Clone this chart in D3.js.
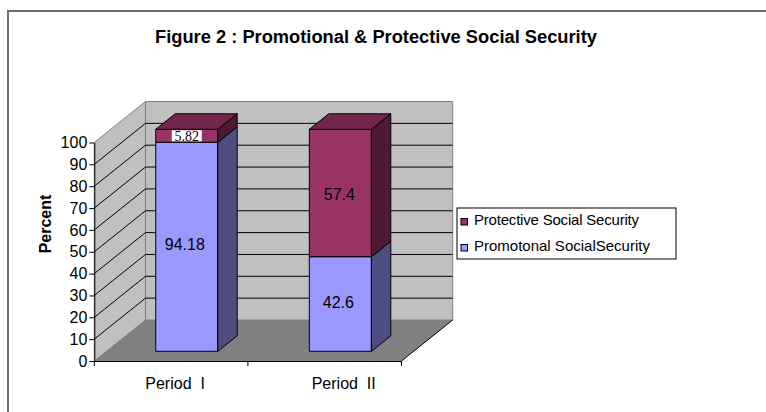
<!DOCTYPE html>
<html>
<head>
<meta charset="utf-8">
<script src="https://cdn.jsdelivr.net/npm/d3@7"></script>
<style>
  html, body { margin: 0; padding: 0; background: #fff; }
  svg { display: block; font-family: Arial, "Liberation Sans", sans-serif; }
</style>
</head>
<body>
<svg id="chart" width="766" height="412"></svg>
<script>
// ---- data ----
const categories = ["Period  I", "Period  II"];
const seriesNames = ["Promotonal SocialSecurity", "Protective Social Security"];
const promotional = [94.18, 42.6];
const protective = [5.82, 57.4];
const yTicks = [0, 10, 20, 30, 40, 50, 60, 70, 80, 90, 100];
const titleText = "Figure 2 : Promotional & Protective Social Security";
const yTitle = "Percent";

// ---- styling ----
const colors = {
  promo: "#9999ff", promoSide: "#4d4d80", promoTop: "#7373bf",
  prot: "#993366", protSide: "#4d1a33", protTop: "#73264d",
  wall: "#c0c0c0", floor: "#808080"
};

const svg = d3.select("#chart");

// outer border
svg.append("rect").attr("x", 8).attr("y", 11).attr("width", 820).attr("height", 460)
  .attr("fill", "none").attr("stroke", "#6e6e6e").attr("stroke-width", 2);

// scales
const x = d3.scaleBand().domain(categories).range([94.3, 401.5]);
const y = d3.scaleLinear().domain([0, 100]).range([361, 142.5]);
const yBar = d3.scaleLinear().domain([0, 100]).range([351.3, 129.3]);
const DX = 51.2, DY = -41;      // wall depth
const BDX = 19.4, BDY = -15.5;  // bar depth

const x0 = x.range()[0], x1 = x.range()[1];
const line = d3.line();

// back wall
svg.append("path")
  .attr("d", line([[x0 + DX, y(0) + DY], [x1 + DX, y(0) + DY], [x1 + DX, y(100) + DY], [x0 + DX, y(100) + DY]]) + "Z")
  .attr("fill", colors.wall).attr("stroke", "#808080").attr("stroke-width", 1);
// left wall
svg.append("path")
  .attr("d", line([[x0, y(0)], [x0 + DX, y(0) + DY], [x0 + DX, y(100) + DY], [x0, y(100)]]) + "Z")
  .attr("fill", colors.wall).attr("stroke", "#808080").attr("stroke-width", 1);
// floor
svg.append("path")
  .attr("d", line([[x0, y(0)], [x1, y(0)], [x1 + DX, y(0) + DY], [x0 + DX, y(0) + DY]]) + "Z")
  .attr("fill", colors.floor).attr("stroke", "none");
svg.append("path")
  .attr("d", line([[x1, y(0)], [x1 + DX, y(0) + DY]]))
  .attr("fill", "none").attr("stroke", "#000").attr("stroke-width", 1);

// gridlines (levels 10..90)
const grid = svg.append("g");
yTicks.filter(v => v > 0 && v < 100).forEach(v => {
  grid.append("path")
    .attr("d", line([[x0, y(v)], [x0 + DX, y(v) + DY], [x1 + DX, y(v) + DY]]))
    .attr("fill", "none").attr("stroke", "#000").attr("stroke-width", 1);
});

// bars
const barOff = 0.4, barW = 0.404;
const bars = svg.append("g");
categories.forEach((c, i) => {
  const bx = x(c) + x.bandwidth() * barOff;
  const bw = x.bandwidth() * barW;
  const segs = [
    { lo: 0, hi: promotional[i], f: colors.promo, s: colors.promoSide, t: colors.promoTop },
    { lo: promotional[i], hi: promotional[i] + protective[i], f: colors.prot, s: colors.protSide, t: colors.protTop }
  ];
  segs.forEach((sg, k) => {
    const yl = yBar(sg.lo), yh = yBar(sg.hi);
    // front
    bars.append("path").attr("d", line([[bx, yl], [bx + bw, yl], [bx + bw, yh], [bx, yh]]) + "Z")
      .attr("fill", sg.f).attr("stroke", "#000").attr("stroke-width", 1);
    // side
    bars.append("path").attr("d", line([[bx + bw, yl], [bx + bw + BDX, yl + BDY], [bx + bw + BDX, yh + BDY], [bx + bw, yh]]) + "Z")
      .attr("fill", sg.s).attr("stroke", "#000").attr("stroke-width", 1);
    if (k === segs.length - 1) {
      bars.append("path").attr("d", line([[bx, yh], [bx + bw, yh], [bx + bw + BDX, yh + BDY], [bx + BDX, yh + BDY]]) + "Z")
        .attr("fill", sg.t).attr("stroke", "#000").attr("stroke-width", 1);
    }
  });
  // labels
  const cx = bx + bw / 2;
  const v1 = promotional[i], v2 = protective[i];
  svg.append("text").attr("x", cx - 2).attr("y", (yBar(0) + yBar(v1)) / 2 - 2)
    .attr("text-anchor", "middle").attr("dominant-baseline", "central")
    .attr("font-size", 16).attr("fill", "#000").text(v1);
  if (v2 < 10) {
    const ty = (yBar(v1) + yBar(v1 + v2)) / 2;
    const g = svg.append("g");
    g.append("rect").attr("x", cx - 15).attr("y", ty - 5.5).attr("width", 30).attr("height", 11).attr("fill", "#fff");
    g.append("text").attr("x", cx).attr("y", ty + 0.5).attr("text-anchor", "middle").attr("dominant-baseline", "central")
      .attr("font-family", "'Liberation Serif', 'Times New Roman', serif").attr("font-size", 14).text(v2);
  } else {
    svg.append("text").attr("x", cx - 1).attr("y", (yBar(v1) + yBar(v1 + v2)) / 2 + 1)
      .attr("text-anchor", "middle").attr("dominant-baseline", "central")
      .attr("font-size", 16).attr("fill", "#000").text(v2);
  }
});

// y axis
const yAxis = svg.append("g").attr("transform", `translate(${x0},0)`)
  .call(d3.axisLeft(y).tickValues(yTicks).tickSize(5).tickPadding(2).tickSizeOuter(0));
yAxis.select(".domain").attr("stroke", "#000");
yAxis.selectAll("text").attr("font-size", 16).attr("font-family", "Arial, 'Liberation Sans', sans-serif").attr("fill", "#000");

// x axis
const xAxis = svg.append("g").attr("transform", `translate(0,${y(0)})`)
  .call(d3.axisBottom(x).tickSize(0).tickPadding(17).tickSizeOuter(0));
xAxis.select(".domain").attr("stroke", "#000");
xAxis.selectAll("text").attr("font-size", 16).attr("font-family", "Arial, 'Liberation Sans', sans-serif").attr("fill", "#000")
  .attr("dx", (d, i) => i === 0 ? 4 : 19).style("white-space", "pre");
// category boundary ticks
svg.append("g").selectAll("line").data([x0, x0 + x.bandwidth(), x1]).join("line")
  .attr("x1", d => d).attr("x2", d => d).attr("y1", y(0)).attr("y2", y(0) + 5)
  .attr("stroke", "#000");

// y title
svg.append("text").attr("transform", `translate(51,224) rotate(-90)`)
  .attr("text-anchor", "middle").attr("font-size", 16).attr("font-weight", "bold").text(yTitle);

// chart title
svg.append("text").attr("x", 376).attr("y", 43).attr("text-anchor", "middle")
  .attr("font-size", 18.3).attr("font-weight", "bold").text(titleText);

// legend
const lg = svg.append("g");
lg.append("rect").attr("x", 457).attr("y", 208).attr("width", 219).attr("height", 51)
  .attr("fill", "#fff").attr("stroke", "#000").attr("stroke-width", 1);
const legendItems = [
  { name: seriesNames[1], color: colors.prot },
  { name: seriesNames[0], color: colors.promo }
];
legendItems.forEach((d, i) => {
  const by = 225 + i * 26;
  lg.append("rect").attr("x", 461).attr("y", by - 6.5).attr("width", 6.5).attr("height", 6.5)
    .attr("fill", d.color).attr("stroke", "#000").attr("stroke-width", 1);
  lg.append("text").attr("x", 474).attr("y", by).attr("font-size", 15)
    .attr("letter-spacing", i === 0 ? -0.2 : 0).style("white-space", "pre").text(d.name);
});
</script>
</body>
</html>
